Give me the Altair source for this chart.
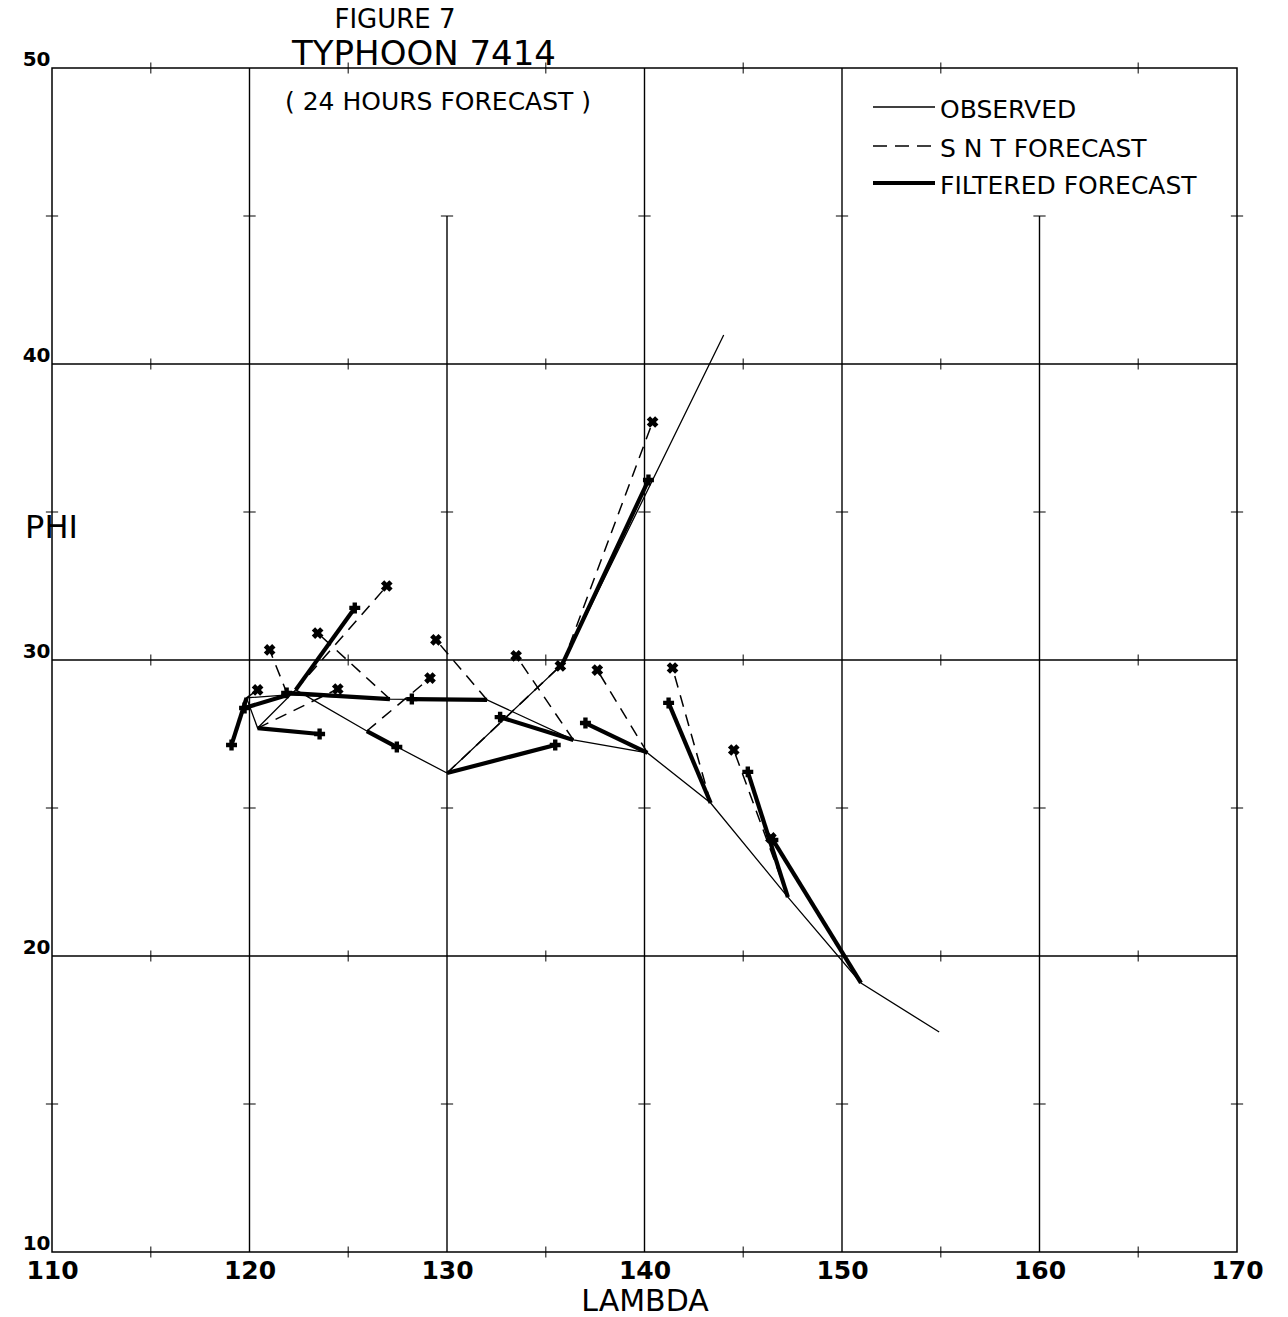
import altair as alt
import pandas as pd

# ---------------- data ----------------
# observed track (chronological, from the SE start)
obs_lon = [154.92, 150.96, 147.26, 143.35, 140.15, 136.40, 132.03, 127.11,
           121.93, 119.85, 120.41, 122.34, 125.94, 130.00, 135.84, 144.01]
obs_lat = [17.43, 19.09, 21.99, 25.17, 26.86, 27.30, 28.65, 28.68,
           28.82, 28.72, 27.70, 28.99, 27.60, 26.18, 29.86, 40.98]

# 24 h forecasts issued from observed points 2..15
snt_lon = [146.40, 144.52, 141.42, 137.61, 133.50, 129.44, 123.45,
           121.02, 120.41, 124.47, 126.95, 129.14, 135.74, 140.41]
snt_lat = [23.99, 26.96, 29.73, 29.66, 30.14, 30.68, 30.91,
           30.34, 28.99, 29.02, 32.50, 29.39, 29.80, 38.04]
filt_lon = [146.50, 145.23, 141.22, 137.01, 132.69, 128.22, 121.88,
            119.75, 119.09, 123.55, 125.33, 127.46, 135.48, 140.20]
filt_lat = [23.92, 26.22, 28.55, 27.87, 28.07, 28.68, 28.89,
            28.38, 27.13, 27.50, 31.76, 27.06, 27.13, 36.08]

x_ticks = [110, 120, 130, 140, 150, 160, 170]
y_ticks = [10, 20, 30, 40, 50]
minor_lon = [115, 125, 135, 145, 155, 165]
minor_lat = [15, 25, 35, 45]

grid_v_lon = [120, 130, 140, 150, 160]
grid_v_top = [50, 45, 50, 50, 45]
grid_h_lat = [20, 30, 40]

# ---------------- tables ----------------
obs_df = pd.DataFrame({"lon": obs_lon, "lat": obs_lat, "k": range(len(obs_lon))})


def seg_table(lons, lats):
    rows = []
    for i in range(len(lons)):
        rows.append({"seg": i, "k": 0, "lon": obs_lon[i + 1], "lat": obs_lat[i + 1]})
        rows.append({"seg": i, "k": 1, "lon": lons[i], "lat": lats[i]})
    return pd.DataFrame(rows)


snt_df = seg_table(snt_lon, snt_lat)
filt_df = seg_table(filt_lon, filt_lat)
snt_pts = pd.DataFrame({"lon": snt_lon, "lat": snt_lat})
filt_pts = pd.DataFrame({"lon": filt_lon, "lat": filt_lat})

gv_df = pd.DataFrame({"lon": grid_v_lon, "lat": [10] * len(grid_v_lon), "lat2": grid_v_top})
gh_df = pd.DataFrame({"lat": grid_h_lat, "lon": [110] * len(grid_h_lat), "lon2": [170] * len(grid_h_lat)})

tick_h_df = pd.DataFrame([{"lon": a, "lat": b} for b in y_ticks for a in minor_lon])
tick_v_df = pd.DataFrame([{"lon": a, "lat": b} for a in x_ticks for b in minor_lat])

FONT = "DejaVu Sans"

xscale = alt.Scale(domain=[110, 170], nice=False, zero=False)
yscale = alt.Scale(domain=[10, 50], nice=False, zero=False)

x_axis = alt.Axis(values=x_ticks, grid=False, ticks=False, domain=False,
                  labelFont=FONT, labelFontSize=25, labelFontWeight="bold",
                  labelColor="black", labelPadding=6, labelFlush=False,
                  labelOverlap=False, format="d",
                  title="LAMBDA", titleFont=FONT, titleFontSize=30,
                  titleFontWeight="normal", titleColor="black", titlePadding=3)
y_axis = alt.Axis(values=y_ticks, grid=False, ticks=False, domain=False,
                  labelFont=FONT, labelFontSize=20, labelFontWeight="bold",
                  labelColor="black", labelAlign="right",
                  labelBaseline="alphabetic", labelPadding=2, labelOffset=-3,
                  labelFlush=False, labelOverlap=False, format="d",
                  title="PHI", titleFont=FONT, titleFontSize=32,
                  titleFontWeight="normal", titleColor="black", titleAngle=0,
                  titleAlign="center", titleBaseline="middle",
                  titleX=-1, titleY=459)


def X(field="lon"):
    return alt.X(f"{field}:Q", scale=xscale, axis=x_axis)


def Y(field="lat"):
    return alt.Y(f"{field}:Q", scale=yscale, axis=y_axis)


# ---------------- layers ----------------
grid_v = alt.Chart(gv_df).mark_rule(color="black", strokeWidth=1.4).encode(
    x=X(), y=Y(), y2="lat2:Q")
grid_h = alt.Chart(gh_df).mark_rule(color="black", strokeWidth=1.4).encode(
    y=Y(), x=X(), x2="lon2:Q")

tick_h = alt.Chart(tick_h_df).mark_point(
    shape="M0,-1L0,1", size=120, filled=False, stroke="black", strokeWidth=1.4
).encode(x=X(), y=Y())
tick_v = alt.Chart(tick_v_df).mark_point(
    shape="M-1,0L1,0", size=150, filled=False, stroke="black", strokeWidth=1.4
).encode(x=X(), y=Y())

obs_line = alt.Chart(obs_df).mark_line(color="black", strokeWidth=1.3).encode(
    x=X(), y=Y(), order="k:O")

snt_line = alt.Chart(snt_df).mark_line(
    color="black", strokeWidth=1.5, strokeDash=[12, 8]
).encode(x=X(), y=Y(), detail="seg:N", order="k:O")

filt_line = alt.Chart(filt_df).mark_line(color="black", strokeWidth=4.2).encode(
    x=X(), y=Y(), detail="seg:N", order="k:O")

snt_mark = alt.Chart(snt_pts).mark_point(
    shape="cross", angle=45, size=140, filled=True, color="black", opacity=1
).encode(x=X(), y=Y())
filt_mark = alt.Chart(filt_pts).mark_point(
    shape="cross", size=120, filled=True, color="black", opacity=1
).encode(x=X(), y=Y())

one = pd.DataFrame({"a": [0]})


def label(txt, x, y, size, align="center", baseline="alphabetic"):
    return alt.Chart(one).mark_text(
        text=txt, font=FONT, fontSize=size, color="black",
        align=align, baseline=baseline
    ).encode(x=alt.value(x), y=alt.value(y))


t1 = label("FIGURE 7", 343, -40, 26)
t2 = label("TYPHOON 7414", 372, -3, 34)
t3 = label("( 24 HOURS FORECAST )", 386, 42, 25)

leg1 = alt.Chart(one).mark_rule(color="black", strokeWidth=1.3).encode(
    x=alt.value(821), x2=alt.value(883), y=alt.value(39))
leg2 = alt.Chart(one).mark_rule(color="black", strokeWidth=1.5, strokeDash=[14, 8]).encode(
    x=alt.value(821), x2=alt.value(883), y=alt.value(78))
leg3 = alt.Chart(one).mark_rule(color="black", strokeWidth=4).encode(
    x=alt.value(821), x2=alt.value(883), y=alt.value(115))
lt1 = label("OBSERVED", 888, 50, 25, align="left")
lt2 = label("S N T FORECAST", 888, 89, 25, align="left")
lt3 = label("FILTERED FORECAST", 888, 126, 25, align="left")

chart = alt.layer(
    grid_v, grid_h, tick_h, tick_v, obs_line, snt_line, filt_line,
    snt_mark, filt_mark, t1, t2, t3, leg1, leg2, leg3, lt1, lt2, lt3
).properties(
    width=1185, height=1184,
    autosize=alt.AutoSizeParams(type="none"),
    padding={"left": 52, "top": 68, "right": 51, "bottom": 65},
    background="white",
).configure_view(stroke="black", strokeWidth=1.5)

chart.save("out.html", embed_options={"renderer": "svg", "actions": False})
